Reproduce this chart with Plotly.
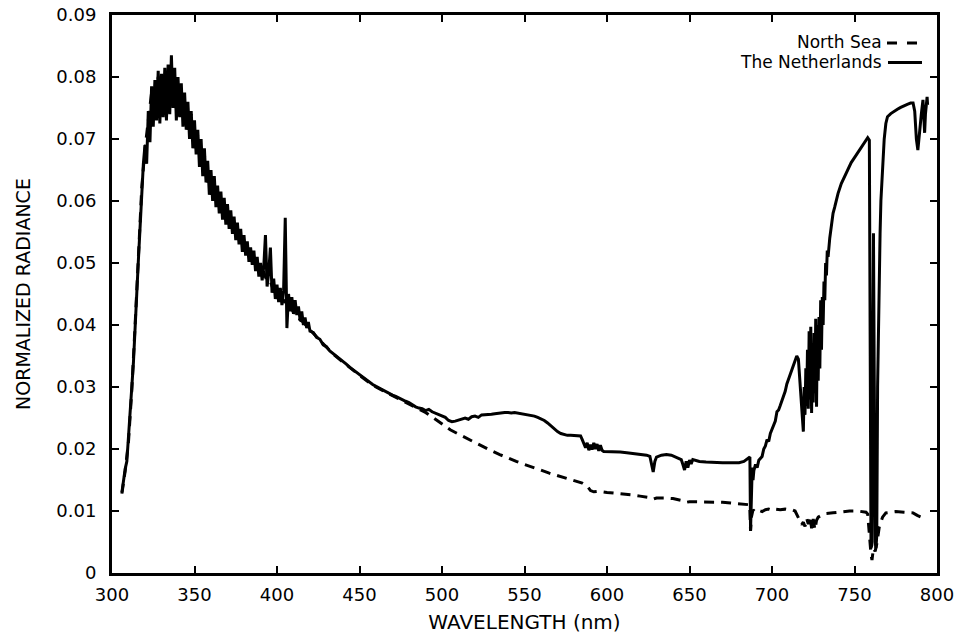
import plotly.graph_objects as go

# ---------------- data ----------------
nl_wavelength = [
    306, 307, 308, 309, 310, 311, 312, 313, 314, 315,
    316, 317, 318, 319, 320, 321, 322, 323, 324, 325,
    326, 327, 328, 329, 330, 331, 332, 333, 334, 335,
    336, 337, 338, 339, 340, 341, 342, 343, 344, 345,
    346, 347, 348, 349, 350, 351, 352, 353, 354, 355,
    356, 357, 358, 359, 360, 361, 362, 363, 364, 365,
    366, 367, 368, 369, 370, 371, 372, 373, 374, 375,
    376, 377, 378, 379, 380, 381, 382, 383, 384, 385,
    386, 387, 388, 389, 390, 391, 392, 393, 394, 395,
    396, 397, 398, 399, 400, 401, 402, 403, 404, 405,
    406, 407, 408, 409, 410, 411, 412, 413, 414, 415,
    416, 417, 418, 419, 420, 422, 424, 426, 428, 430,
    432, 434, 436, 438, 440, 442, 444, 446, 448, 450,
    452, 454, 456, 458, 460, 462, 464, 466, 468, 470,
    472, 474, 476, 478, 480, 482, 484, 486, 488, 490,
    492, 494, 496, 498, 500, 502, 504, 506, 508, 510,
    512, 514, 516, 518, 520, 522, 524, 526, 528, 530,
    532, 534, 536, 538, 540, 542, 544, 546, 548, 550,
    552, 554, 556, 558, 560, 562, 564, 566, 568, 570,
    572, 574, 576, 578, 580, 582, 584, 585, 586, 587,
    588, 589, 590, 591, 592, 593, 594, 595, 596, 597,
    598, 600, 604, 608, 612, 616, 620, 624, 626, 627,
    628, 629, 630, 633, 636, 639, 642, 645, 646, 647,
    648, 649, 650, 651, 652, 654, 656, 660, 665, 670,
    675, 680, 683, 685, 686, 686.6, 687, 687.5, 688, 688.5,
    689, 690, 691, 692, 694, 695, 696, 697, 698, 699,
    700, 701, 702, 703, 704, 705, 706, 707, 708, 709,
    710, 711, 712, 713, 714, 715, 716, 717, 718,
    719, 719.5, 720, 720.5, 721, 721.5, 722, 722.5, 723, 723.5,
    724, 724.5, 725, 725.5, 726, 726.5, 727, 727.5, 728, 728.5,
    729, 729.5, 730, 730.5, 731, 731.5, 732, 732.5, 733, 733.5,
    734, 735, 736, 737, 738, 739, 740, 742, 744, 746,
    748, 750, 752, 754, 756, 758, 759, 759.5, 760, 760.5,
    761, 761.5, 762, 762.5, 763, 763.5, 764, 765, 765.5, 766,
    767, 768, 769, 770, 772, 774, 776, 778, 780, 782,
    784, 785.5, 786.5, 787.5, 788.4, 789, 789.6, 790.5, 791.5, 792,
    792.5, 793, 794, 794.3,
]
nl_radiance = [
    0.0130, 0.0150, 0.0168, 0.0180, 0.0215, 0.0258, 0.0300, 0.0340, 0.0405, 0.0450,
    0.0505, 0.0558, 0.0630, 0.0660, 0.0690, 0.0660, 0.0745, 0.0695, 0.0785, 0.0720,
    0.0795, 0.0730, 0.0810, 0.0725, 0.0805, 0.0735, 0.0815, 0.0730, 0.0820, 0.0740,
    0.0835, 0.0750, 0.0815, 0.0730, 0.0800, 0.0735, 0.0790, 0.0720, 0.0775, 0.0715,
    0.0760, 0.0700, 0.0745, 0.0685, 0.0730, 0.0675, 0.0715, 0.0655, 0.0700, 0.0640,
    0.0685, 0.0630, 0.0665, 0.0610, 0.0650, 0.0600, 0.0640, 0.0590, 0.0625, 0.0580,
    0.0615, 0.0570, 0.0605, 0.0562, 0.0595, 0.0555, 0.0585, 0.0547, 0.0575, 0.0537,
    0.0565, 0.0530, 0.0555, 0.0518, 0.0545, 0.0512, 0.0535, 0.0502, 0.0525, 0.0497,
    0.0520, 0.0487, 0.0510, 0.0478, 0.0500, 0.0472, 0.0495, 0.0545, 0.0462, 0.0485,
    0.0525, 0.0452, 0.0475, 0.0442, 0.0465, 0.0437, 0.0460, 0.0432, 0.0455, 0.0573,
    0.0395, 0.0450, 0.0422, 0.0445, 0.0418, 0.0440, 0.0416, 0.0430, 0.0408, 0.0422,
    0.0400, 0.0412, 0.0395, 0.0405, 0.0390, 0.0388, 0.0380, 0.0377, 0.0368, 0.0365,
    0.0358, 0.0354, 0.0350, 0.0345, 0.0341, 0.0337, 0.0332, 0.0328, 0.0324, 0.0320,
    0.0316, 0.0311, 0.0308, 0.0304, 0.0301, 0.0298, 0.0295, 0.0293, 0.0290, 0.0287,
    0.0285, 0.0282, 0.0279, 0.0277, 0.0275, 0.0271, 0.0268, 0.0266, 0.0265, 0.0262,
    0.0264, 0.0260, 0.0258, 0.0256, 0.0253, 0.0251, 0.0246, 0.0244, 0.0245, 0.0247,
    0.0249, 0.0250, 0.0248, 0.0252, 0.0253, 0.0251, 0.0255, 0.0255, 0.0256, 0.0256,
    0.0257, 0.0258, 0.0258, 0.0259, 0.0259, 0.0258, 0.0259, 0.0258, 0.0258, 0.0257,
    0.0256, 0.0255, 0.0253, 0.0251, 0.0249, 0.0246, 0.0242, 0.0237, 0.0233, 0.0228,
    0.0225, 0.0223, 0.0222, 0.0222, 0.0222, 0.0222, 0.0221, 0.0215, 0.0208, 0.0202,
    0.0210, 0.0198, 0.0207, 0.0199, 0.0210, 0.0200, 0.0208, 0.0197, 0.0206, 0.0198,
    0.0196, 0.0196, 0.0196, 0.0195, 0.0194, 0.0193, 0.0192, 0.0190, 0.0188, 0.0175,
    0.0163, 0.0180, 0.0187, 0.0190, 0.0191, 0.0190, 0.0187, 0.0183, 0.0175, 0.0166,
    0.0180, 0.0170, 0.0182, 0.0176, 0.0183, 0.0181, 0.0180, 0.0179, 0.0178, 0.0178,
    0.0178, 0.0178, 0.0180, 0.0184, 0.0186, 0.0187, 0.0069, 0.0120, 0.0170, 0.0150,
    0.0165, 0.0175, 0.0170, 0.0182, 0.0188, 0.0200, 0.0205, 0.0215, 0.0212, 0.0225,
    0.0232, 0.0240, 0.0245, 0.0260, 0.0263, 0.0270, 0.0278, 0.0285, 0.0293, 0.0305,
    0.0312, 0.0320, 0.0328, 0.0335, 0.0342, 0.0350, 0.0345, 0.0310, 0.0260,
    0.0228, 0.0300, 0.0255, 0.0330, 0.0270, 0.0360, 0.0265, 0.0390, 0.0280, 0.0397,
    0.0258, 0.0370, 0.0275, 0.0387, 0.0290, 0.0410, 0.0268, 0.0400, 0.0310, 0.0413,
    0.0330, 0.0440, 0.0360, 0.0445, 0.0400, 0.0470, 0.0440, 0.0500, 0.0480, 0.0520,
    0.0510, 0.0540, 0.0560, 0.0580, 0.0590, 0.0602, 0.0612, 0.0628, 0.0640, 0.0652,
    0.0662, 0.0670, 0.0678, 0.0686, 0.0695, 0.0702, 0.0698, 0.0400, 0.0040, 0.0045,
    0.0300, 0.0548, 0.0300, 0.0050, 0.0040, 0.0060, 0.0300, 0.0520, 0.0548, 0.0600,
    0.0655, 0.0700, 0.0725, 0.0736, 0.0741, 0.0745, 0.0748, 0.0751, 0.0754, 0.0756,
    0.0758, 0.0758, 0.0745, 0.0700, 0.0682, 0.0700, 0.0720, 0.0740, 0.0763, 0.0740,
    0.0710, 0.0740, 0.0768, 0.0755,
]

ns_wavelength = [
    306, 308, 310, 312, 314, 316, 318, 320, 322, 324,
    326, 328, 330, 332, 334, 336, 338, 340, 342, 344,
    346, 348, 350, 352, 354, 356, 358, 360, 362, 364,
    366, 368, 370, 372, 374, 376, 378, 380, 382, 384,
    386, 388, 390, 392, 394, 396, 398, 400, 402, 404,
    406, 408, 410, 412, 414, 416, 418, 420, 425, 430,
    435, 440, 445, 450, 455, 460, 465, 470, 475, 480,
    485, 490, 495, 500, 505, 510, 515, 520, 525, 530,
    535, 540, 545, 550, 555, 560, 565, 570, 575, 580,
    585, 588, 590, 592, 595, 600, 605, 610, 615, 620,
    625, 628, 630, 635, 640, 645, 648, 650, 655, 660,
    665, 670, 675, 680, 685, 686.5, 687, 687.5, 688.5, 690,
    692, 694, 696, 698, 700, 702, 705, 708, 710, 712,
    714, 716, 717, 718, 719, 720, 721, 722, 723, 724,
    725, 726, 727, 728, 730, 733, 737, 742, 747, 752,
    755, 757, 758, 759, 760, 760.6, 761.5, 762.5, 763.6, 765,
    767, 769, 771.5, 775, 780, 785.5, 788, 791.5,
]
ns_radiance = [
    0.0128, 0.0165, 0.0212, 0.0295, 0.0400, 0.0500, 0.0620, 0.0685, 0.0735, 0.0775,
    0.0740, 0.0800, 0.0750, 0.0805, 0.0745, 0.0815, 0.0750, 0.0790, 0.0735, 0.0765,
    0.0715, 0.0740, 0.0695, 0.0705, 0.0665, 0.0675, 0.0630, 0.0640, 0.0610, 0.0615,
    0.0585, 0.0595, 0.0570, 0.0575, 0.0555, 0.0555, 0.0535, 0.0540, 0.0520, 0.0520,
    0.0505, 0.0500, 0.0485, 0.0485, 0.0470, 0.0470, 0.0455, 0.0455, 0.0445, 0.0440,
    0.0430, 0.0432, 0.0420, 0.0418, 0.0408, 0.0405, 0.0398, 0.0392, 0.0378, 0.0364,
    0.0351, 0.0340, 0.0329, 0.0319, 0.0309, 0.0300, 0.0293, 0.0286, 0.0279, 0.0272,
    0.0266, 0.0259, 0.0250, 0.0240, 0.0231, 0.0224, 0.0217, 0.0210, 0.0203, 0.0197,
    0.0191, 0.0185, 0.0180, 0.0175, 0.0171, 0.0166, 0.0161, 0.0157, 0.0153, 0.0150,
    0.0145, 0.0140, 0.0133, 0.0131, 0.0132, 0.0130, 0.0129, 0.0128, 0.0126, 0.0124,
    0.0122, 0.0119, 0.0121, 0.0121, 0.0120, 0.0117, 0.0114, 0.0115, 0.0115, 0.0115,
    0.0114, 0.0114, 0.0113, 0.0112, 0.0111, 0.0110, 0.0068, 0.0090, 0.0102, 0.0098,
    0.0101, 0.0099, 0.0102, 0.0103, 0.0101, 0.0103, 0.0102, 0.0103, 0.0102, 0.0102,
    0.0100, 0.0090, 0.0085, 0.0078, 0.0082, 0.0075, 0.0088, 0.0079, 0.0092, 0.0072,
    0.0087, 0.0070, 0.0085, 0.0090, 0.0093, 0.0096, 0.0097, 0.0099, 0.0100, 0.0100,
    0.0099, 0.0098, 0.0095, 0.0060, 0.0030, 0.0021, 0.0040, 0.0035, 0.0048, 0.0074,
    0.0090, 0.0097, 0.0098, 0.0099, 0.0098, 0.0097, 0.0093, 0.0089,
]

x_ticks = [300, 350, 400, 450, 500, 550, 600, 650, 700, 750, 800]
y_ticks = [0, 0.01, 0.02, 0.03, 0.04, 0.05, 0.06, 0.07, 0.08, 0.09]
y_tick_labels = ["0", "0.01", "0.02", "0.03", "0.04", "0.05", "0.06", "0.07", "0.08", "0.09"]
series_names = ["North Sea", "The Netherlands"]

FONT = "DejaVu Sans"

fig = go.Figure()
fig.add_trace(go.Scatter(
    x=ns_wavelength, y=ns_radiance, mode="lines", name=series_names[0],
    line=dict(color="black", width=3, dash="10px,7px"), showlegend=False,
))
fig.add_trace(go.Scatter(
    x=nl_wavelength, y=nl_radiance, mode="lines", name=series_names[1],
    line=dict(color="black", width=3), showlegend=False,
))

axis_common = dict(
    showgrid=False, zeroline=False, showline=True, linecolor="black", linewidth=3,
    mirror="ticks", ticks="inside", ticklen=7, tickwidth=2, tickcolor="black",
    tickfont=dict(family=FONT, size=18, color="black"), automargin=False,
)
fig.update_xaxes(
    range=[300, 800], tickvals=x_ticks, ticktext=[str(v) for v in x_ticks],
    ticklabelstandoff=3,
    title=dict(text="WAVELENGTH (nm)", font=dict(family=FONT, size=20, color="black"), standoff=12),
    **axis_common,
)
fig.update_yaxes(
    range=[0, 0.09], tickvals=y_ticks, ticktext=y_tick_labels,
    ticklabelstandoff=9,
    title=dict(text="NORMALIZED RADIANCE", font=dict(family=FONT, size=19, color="black"), standoff=21),
    **axis_common,
)

# legend drawn in the reference style: text on the left, line sample on the right
legend_font = dict(family=FONT, size=17, color="black")
fig.add_annotation(xref="paper", yref="paper", x=0.9345, y=0.9525, text=series_names[0],
                   showarrow=False, xanchor="right", yanchor="middle", font=legend_font,
                   borderpad=0)
fig.add_annotation(xref="paper", yref="paper", x=0.9345, y=0.9158, text=series_names[1],
                   showarrow=False, xanchor="right", yanchor="middle", font=legend_font,
                   borderpad=0)
fig.add_shape(type="line", xref="paper", yref="paper", x0=0.9394, x1=0.9758, y0=0.9498, y1=0.9498,
              line=dict(color="black", width=3, dash="10px,10px"))
fig.add_shape(type="line", xref="paper", yref="paper", x0=0.9406, x1=0.9818, y0=0.9149, y1=0.9149,
              line=dict(color="black", width=3))

fig.update_layout(
    width=963, height=638,
    margin=dict(l=112, r=26, t=15, b=65, autoexpand=False),
    plot_bgcolor="white", paper_bgcolor="white",
    font=dict(family=FONT, color="black"),
)

# remove the browser's default page margin so the figure sits at the window's corner
fig.write_html("out.html", config={"displayModeBar": False},
               post_script="document.body.style.margin='0';")
